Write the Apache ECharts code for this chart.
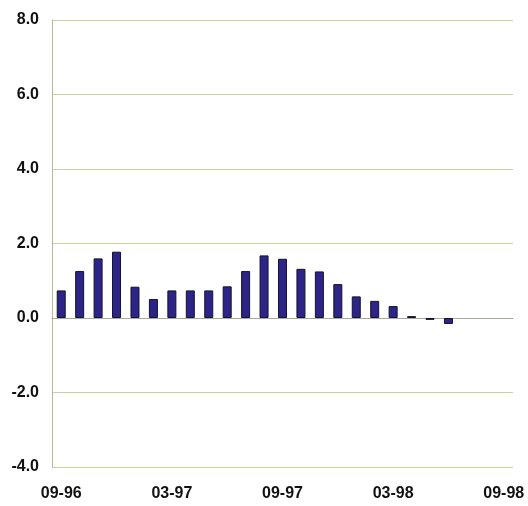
<!DOCTYPE html>
<html>
<head>
<meta charset="utf-8">
<script src="https://cdn.jsdelivr.net/npm/echarts@6/dist/echarts.min.js"></script>
<style>
  html, body { margin: 0; padding: 0; background: #ffffff; }
  #chart { width: 528px; height: 506px; }
</style>
</head>
<body>
<div id="chart"></div>
<script>
// Monthly periods, Sep 1996 through Sep 1998
const months = [
  '09-96','10-96','11-96','12-96','01-97','02-97','03-97','04-97','05-97',
  '06-97','07-97','08-97','09-97','10-97','11-97','12-97','01-98','02-98',
  '03-98','04-98','05-98','06-98','07-98','08-98','09-98'
];

// Monthly change (%), no data after 06-98
const values = [
  0.74, 1.26, 1.60, 1.78, 0.84, 0.51, 0.74, 0.74, 0.74,
  0.85, 1.26, 1.68, 1.59, 1.32, 1.25, 0.91, 0.58, 0.46,
  0.32, 0.05, -0.05, -0.16, null, null, null
];

const yMin = -4;
const yMax = 8;
const yStep = 2;

const labelFont = {
  fontFamily: 'Liberation Sans',
  fontWeight: 'bold',
  fontSize: 16,
  color: '#111111'
};

const chart = echarts.init(document.getElementById('chart'), null, { renderer: 'canvas' });

chart.setOption({
  animation: false,
  backgroundColor: '#ffffff',
  grid: { left: 52, right: 15, top: 20, bottom: 39, containLabel: false },
  xAxis: {
    type: 'category',
    data: months,
    boundaryGap: true,
    axisLine: { show: true, lineStyle: { color: '#a8ab98', width: 1 } },
    axisTick: { show: false },
    axisLabel: Object.assign({ interval: 5, margin: 19 }, labelFont),
    splitLine: { show: false }
  },
  yAxis: {
    type: 'value',
    min: yMin,
    max: yMax,
    interval: yStep,
    axisLine: { show: true, lineStyle: { color: '#b5b99a', width: 1 } },
    axisTick: { show: false },
    axisLabel: Object.assign({
      margin: 13,
      formatter: v => v.toFixed(1)
    }, labelFont),
    splitLine: { show: true, lineStyle: { color: '#cbcf9a', width: 1 } }
  },
  series: [{
    type: 'bar',
    data: values,
    barWidth: 9,
    itemStyle: {
      color: '#2c2486',
      borderColor: '#14122e',
      borderWidth: 1
    }
  }]
});
</script>
</body>
</html>
